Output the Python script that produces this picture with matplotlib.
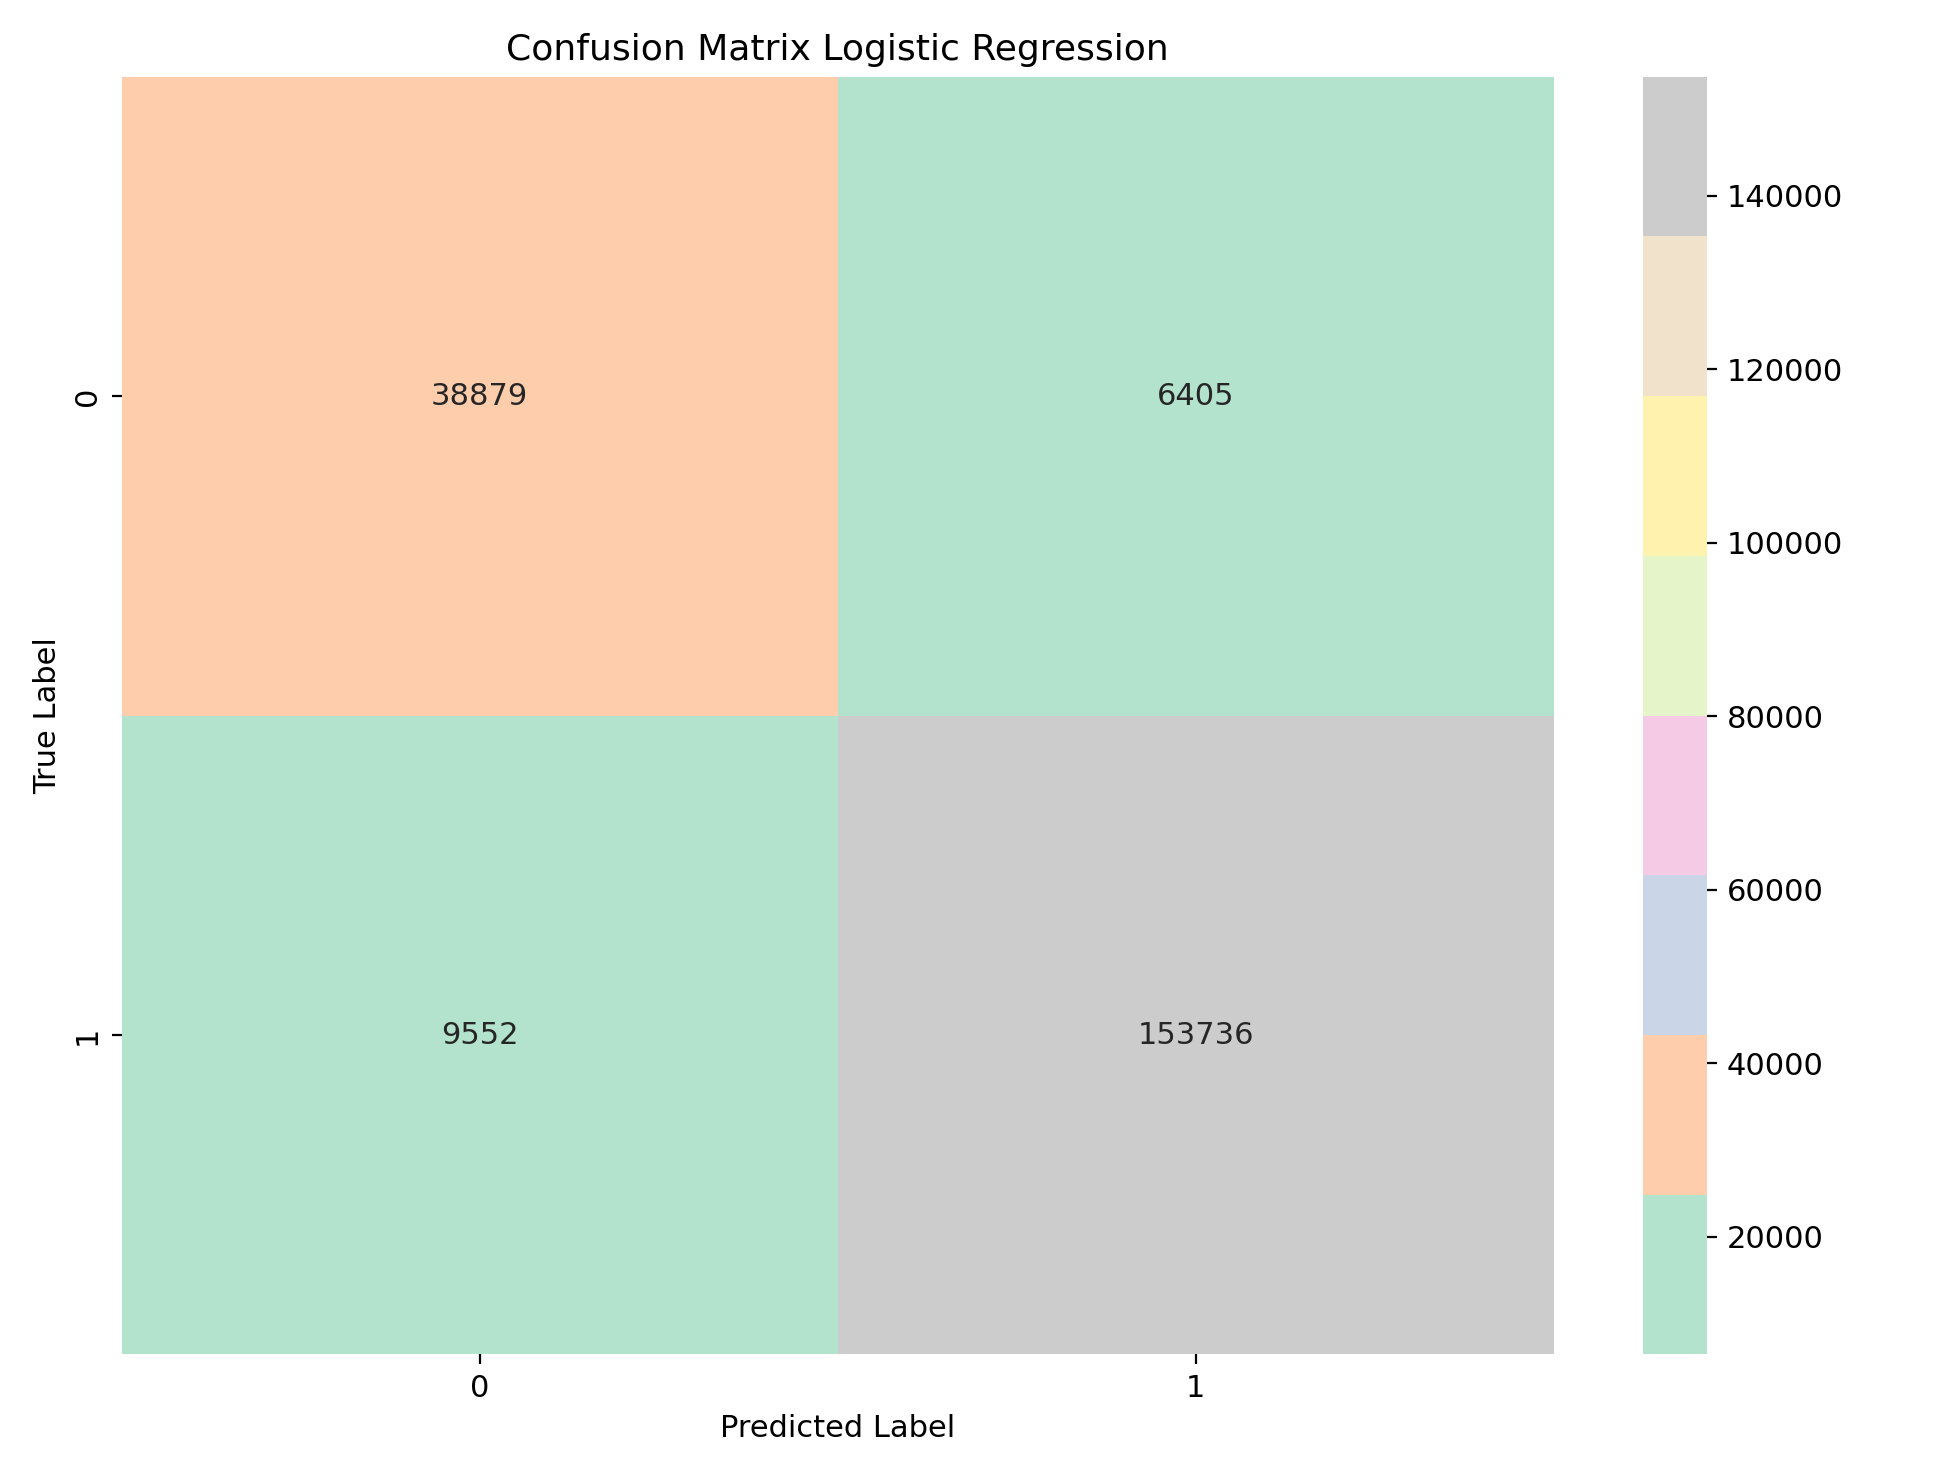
import numpy as np
import matplotlib
matplotlib.use("Agg")
import matplotlib.pyplot as plt
import seaborn as sns

plt.rcParams['font.size'] = 11

LABELS = ["0", "1"]
ROW_0 = [38879, 6405]
ROW_1 = [9552, 153736]

cm = np.array([ROW_0, ROW_1])

fig, ax = plt.subplots(figsize=(9.725, 7.38), dpi=200)
sns.heatmap(cm, annot=True, fmt="d", cmap="Pastel2", ax=ax,
            xticklabels=LABELS, yticklabels=LABELS)
ax.set_title("Confusion Matrix Logistic Regression", fontsize=13)
ax.set_xlabel("Predicted Label")
ax.set_ylabel("True Label")
fig.tight_layout()
fig.savefig("out.png", facecolor="white")
plt.close(fig)
